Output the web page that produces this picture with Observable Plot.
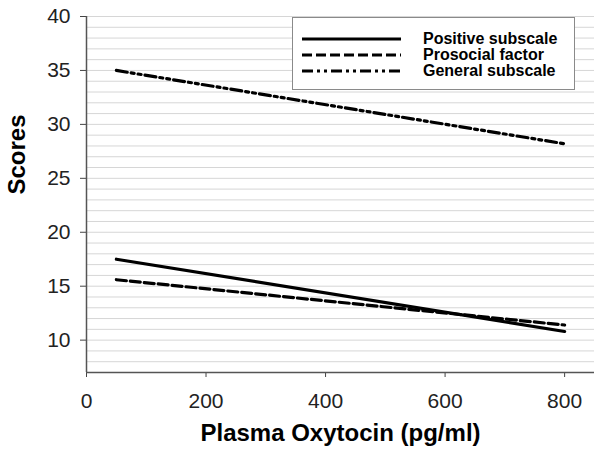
<!DOCTYPE html>
<html>
<head>
<meta charset="utf-8">
<script src="https://cdn.jsdelivr.net/npm/d3@7"></script>
<script src="https://cdn.jsdelivr.net/npm/@observablehq/plot@0.6"></script>
<style>
  body { margin: 0; background: #fff; }
  #wrap { position: relative; width: 602px; height: 463px; font-family: "Liberation Sans", Arial, sans-serif; }
  #legend { position: absolute; left: 292px; top: 17px; width: 283px; height: 73px; border: 1px solid #8a8a8a; background: #fff; box-sizing: border-box; }
  #legend .row { position: absolute; left: 0; height: 16px; display: flex; align-items: center; }
  #legend .row span { position: absolute; left: 130px; top: -1px; font-weight: bold; font-size: 16px; line-height: 18px; white-space: nowrap; color: #000; }
</style>
</head>
<body>
<div id="wrap"></div>
<script>
const seriesNames = ["Positive subscale", "Prosocial factor", "General subscale"];
const oxytocin = [50, 800];
const positive = [17.5, 10.8];
const prosocial = [15.6, 11.4];
const general = [35.0, 28.2];
const xTicks = [0, 200, 400, 600, 800];
const yTicks = [10, 15, 20, 25, 30, 35, 40];
const gridLines = [8, 9, 11, 12, 13, 14, 16, 17, 18, 19, 21, 22, 23, 24, 26, 27, 28, 29, 31, 32, 33, 34, 36, 37, 38, 39, 10, 15, 20, 25, 30, 35, 40];
const xTitle = "Plasma Oxytocin (pg/ml)";
const yTitle = "Scores";

const dashes = ["none", "10,4", "11,4,3,4,3,4"];
const valueSets = [positive, prosocial, general];
const data = seriesNames.flatMap((s, i) => oxytocin.map((x, j) => ({series: s, x, y: valueSets[i][j]})));

const font = "'Liberation Sans', Arial, sans-serif";
const chart = Plot.plot({
  width: 602,
  height: 463,
  marginLeft: 86,
  marginRight: 8,
  marginTop: 16,
  marginBottom: 91,
  style: {fontFamily: font, fontSize: "21px", color: "#222", background: "transparent"},
  x: {domain: [0, 850]},
  y: {domain: [7, 40]},
  marks: [
    Plot.ruleY(gridLines, {stroke: "#d6d6d6", strokeWidth: 1}),
    Plot.axisX({ticks: xTicks, tickSize: 5, tickPadding: 16, label: null, stroke: "#444", fontSize: 21}),
    Plot.axisY({ticks: yTicks, tickSize: 6, tickPadding: 10, label: null, stroke: "#444", fontSize: 21}),
    Plot.ruleX([0], {stroke: "#555", strokeWidth: 1.5}),
    Plot.ruleY([7], {stroke: "#555", strokeWidth: 1.5}),
    ...seriesNames.map((s, i) => Plot.line(data.filter(d => d.series === s), {
      x: "x", y: "y", stroke: "#000", strokeWidth: 3.2, strokeDasharray: dashes[i]
    })),
    Plot.text([xTitle], {frameAnchor: "bottom", dy: 68, fontSize: 24, fontWeight: "bold", fill: "#000"}),
    Plot.text([yTitle], {frameAnchor: "left", dx: -69, rotate: -90, fontSize: 24, fontWeight: "bold", fill: "#000"})
  ]
});
const wrap = document.getElementById("wrap");
wrap.appendChild(chart);

const legend = document.createElement("div");
legend.id = "legend";
seriesNames.forEach((s, i) => {
  const row = document.createElement("div");
  row.className = "row";
  row.style.top = (13 + i * 16) + "px";
  row.innerHTML = `<svg width="120" height="16" style="position:absolute;left:8px;top:0"><line x1="1" x2="100" y1="8" y2="8" stroke="#000" stroke-width="3.2" ${dashes[i] === "none" ? "" : `stroke-dasharray="${dashes[i]}"`}/></svg><span>${s}</span>`;
  legend.appendChild(row);
});
wrap.appendChild(legend);
</script>
</body>
</html>
